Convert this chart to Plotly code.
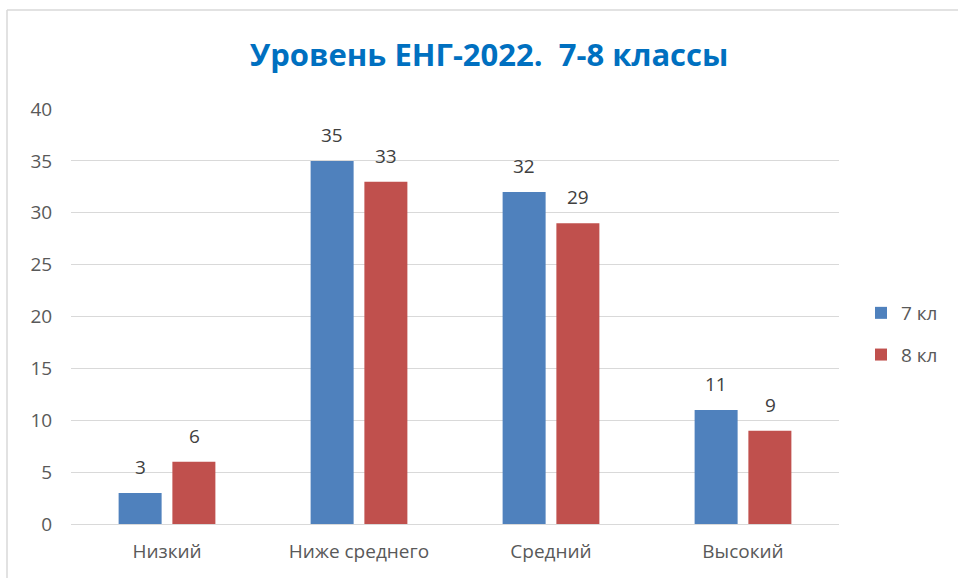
import plotly.graph_objects as go

categories = ["Низкий", "Ниже среднего", "Средний", "Высокий"]
series_names = ["7 кл", "8 кл"]
values_7 = [3, 35, 32, 11]
values_8 = [6, 33, 29, 9]
y_ticks = [0, 5, 10, 15, 20, 25, 30, 35, 40]
title_text = "<b>Уровень ЕНГ-2022.  7-8 классы</b>"

colors = ["#4F81BD", "#C0504D"]
font_family = "'Open Sans', sans-serif"

W, H = 958, 578
L, R, T, B = 71, 119, 109, 54
pw, ph = W - L - R, H - T - B

fig = go.Figure()
annotations = []
offsets = [-27, 27]
for i, (name, vals, col) in enumerate(zip(series_names, [values_7, values_8], colors)):
    fig.add_trace(go.Bar(
        x=categories, y=vals, name=name, marker_color=col,
        marker_line_width=0, legendgroup=f"g{i}",
        hoverinfo="skip",
    ))
    for cat, v in zip(categories, vals):
        annotations.append(dict(
            x=cat, y=v, xref="x", yref="y", text=str(v), showarrow=False,
            xanchor="center", yanchor="bottom", xshift=offsets[i], yshift=11,
            font=dict(size=19, color="#404040", family=font_family),
        ))

def px_x(p):
    return (p - L) / pw

def px_y(p):
    return (H - B - p) / ph

fig.update_layout(
    width=W, height=H,
    margin=dict(l=L, r=R, t=T, b=B, autoexpand=False),
    paper_bgcolor="white", plot_bgcolor="white",
    barmode="group", bargap=0.44, bargroupgap=0.2,
    title=dict(text=title_text, x=489 / W, xref="container", xanchor="center",
               y=1 - 55 / H, yanchor="middle",
               font=dict(size=31, color="#0070C0", family=font_family)),
    font=dict(family=font_family, color="#595959", size=19),
    legend=dict(orientation="v", x=px_x(861), xanchor="left", y=px_y(334), yanchor="middle",
                font=dict(size=19, color="#595959"), itemwidth=30, tracegroupgap=14),
    showlegend=True,
    annotations=annotations,
    shapes=[
        dict(type="line", xref="paper", yref="paper", x0=px_x(7), x1=px_x(960), y0=px_y(10), y1=px_y(10),
             line=dict(color="#D9D9D9", width=1.5)),
        dict(type="line", xref="paper", yref="paper", x0=px_x(7), x1=px_x(7), y0=px_y(10), y1=px_y(580),
             line=dict(color="#D9D9D9", width=1.5)),
    ],
)
fig.update_yaxes(range=[0, 40], tickvals=y_ticks, showgrid=True, gridcolor="#D9D9D9", gridwidth=1,
                 zeroline=False, showline=False, ticks="outside", ticklen=14, tickcolor="rgba(0,0,0,0)",
                 tickfont=dict(size=19, color="#595959"), automargin=False)
fig.update_xaxes(showline=True, linecolor="#D9D9D9", linewidth=1, ticks="outside", ticklen=10,
                 tickcolor="rgba(0,0,0,0)", automargin=False,
                 tickfont=dict(size=19, color="#595959"))

fig.write_html("out.html", config={"displayModeBar": False},
               post_script="document.body.style.margin='0';")
